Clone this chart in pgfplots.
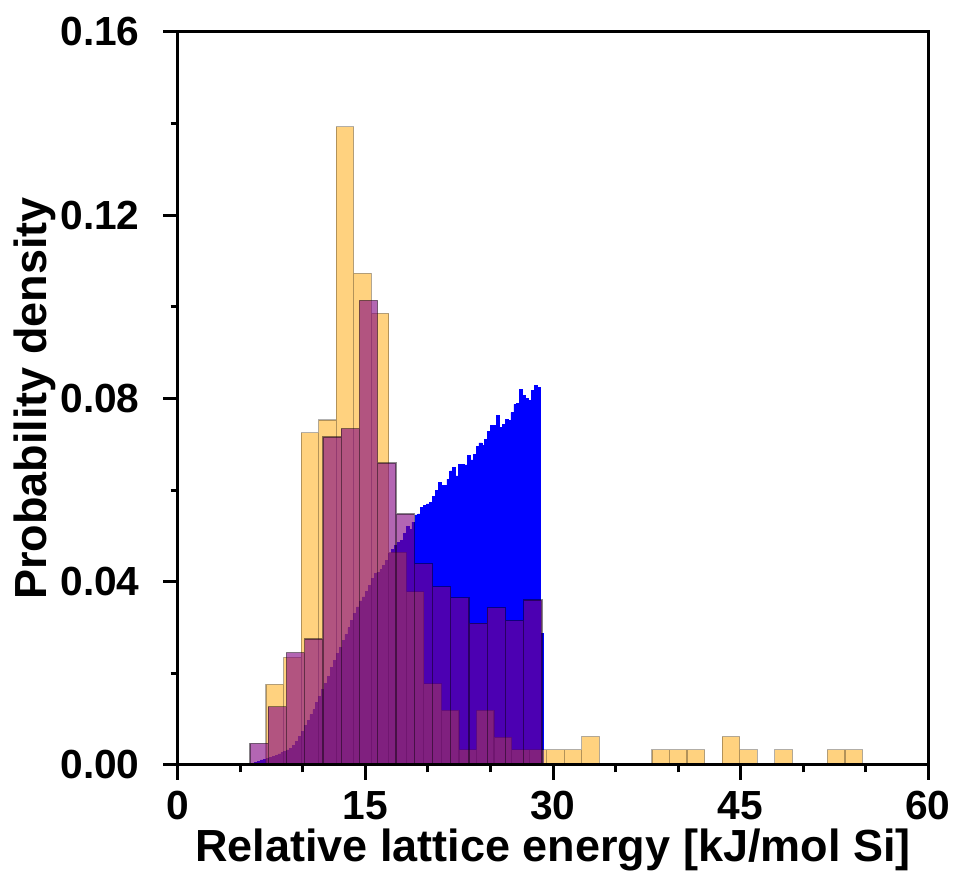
\documentclass[border=0pt]{standalone}
\usepackage{fontspec}
\setmainfont{Liberation Sans}
\usepackage{pgfplots}
\usepackage{pgfplotstable}
\pgfplotsset{compat=1.18}

\definecolor{histblue}{HTML}{0000FF}
\definecolor{historange}{HTML}{FFA500}
\definecolor{histpurple}{HTML}{800080}

% fine histogram (left bin edges, density)
\pgfplotstableread{
x y
5.900 0.0004
6.133 0.0006
6.366 0.0008
6.599 0.0011
6.832 0.0013
7.065 0.0015
7.298 0.0017
7.531 0.0018
7.764 0.0021
7.997 0.0024
8.230 0.0027
8.463 0.0030
8.696 0.0033
8.929 0.0037
9.162 0.0043
9.395 0.0052
9.628 0.0062
9.861 0.0074
10.094 0.0086
10.327 0.0098
10.560 0.0110
10.793 0.0121
11.026 0.0136
11.259 0.0150
11.492 0.0165
11.725 0.0178
11.958 0.0194
12.191 0.0213
12.424 0.0228
12.657 0.0243
12.890 0.0257
13.123 0.0272
13.356 0.0285
13.589 0.0300
13.822 0.0316
14.055 0.0331
14.288 0.0345
14.521 0.0358
14.754 0.0367
14.987 0.0378
15.220 0.0392
15.453 0.0408
15.686 0.0418
15.919 0.0421
16.152 0.0426
16.385 0.0436
16.618 0.0446
16.851 0.0463
17.084 0.0470
17.317 0.0480
17.550 0.0486
17.783 0.0491
18.016 0.0505
18.249 0.0520
18.482 0.0514
18.715 0.0530
18.948 0.0546
19.181 0.0548
19.414 0.0562
19.647 0.0567
19.880 0.0570
20.113 0.0574
20.346 0.0586
20.579 0.0600
20.812 0.0616
21.045 0.0611
21.278 0.0611
21.511 0.0624
21.744 0.0642
21.977 0.0650
22.210 0.0631
22.443 0.0656
22.676 0.0656
22.909 0.0655
23.142 0.0675
23.375 0.0666
23.608 0.0678
23.841 0.0696
24.074 0.0703
24.307 0.0698
24.540 0.0711
24.773 0.0729
25.006 0.0742
25.239 0.0742
25.472 0.0763
25.705 0.0737
25.938 0.0744
26.171 0.0755
26.404 0.0753
26.637 0.0769
26.870 0.0787
27.103 0.0790
27.336 0.0819
27.569 0.0806
27.802 0.0801
28.035 0.0795
28.268 0.0817
28.501 0.0828
28.734 0.0824
28.967 0.0288
29.200 0
}\bluehist

\pgfplotstableread{
x y
7.040 0.0176
8.444 0.0235
9.847 0.0725
11.251 0.0753
12.654 0.1393
14.058 0.1073
15.461 0.0986
16.865 0.0464
18.268 0.0378
19.672 0.0177
21.075 0.0119
22.479 0.0033
23.882 0.0119
25.286 0.0060
26.689 0.0033
28.093 0.0033
29.496 0.0033
30.900 0.0033
32.303 0.0062
33.707 0
35.110 0
36.514 0
37.917 0.0033
39.321 0.0033
40.724 0.0033
42.128 0
43.531 0.0062
44.935 0.0033
46.338 0
47.742 0.0033
49.145 0
50.549 0
51.952 0.0033
53.356 0.0033
54.759 0
}\orangehist

\pgfplotstableread{
x y
5.76 0.0047
7.22 0.0127
8.68 0.0245
10.14 0.0275
11.60 0.0716
13.06 0.0734
14.52 0.1014
15.98 0.0659
17.44 0.0548
18.90 0.0439
20.36 0.0389
21.82 0.0365
23.28 0.0309
24.74 0.0343
26.20 0.0315
27.66 0.0360
29.12 0
}\purplehist

\begin{document}
\begin{tikzpicture}
\begin{axis}[
    name=ax,
    scale only axis,
    width=225pt, height=219.9pt,
    xmin=0, xmax=60, ymin=0, ymax=0.16,
    xtick={0,15,30,45,60},
    minor xtick={5,10,20,25,35,40,50,55},
    ytick={0,0.04,0.08,0.12,0.16},
    minor ytick={0.02,0.06,0.10,0.14},
    scaled y ticks=false,
    tick pos=left,
    tick align=outside,
    major tick length=4.4pt,
    minor tick length=2.2pt,
    every tick/.style={black, line width=0.9pt},
    axis line style={line width=0.9pt},
    axis on top,
    /pgf/number format/assume math mode=true,
    tick label style={font=\bfseries\fontsize{12.2}{14}\selectfont},
    y tick label style={xshift=-3.6pt, /pgf/number format/.cd, fixed, fixed zerofill, precision=2, /tikz/.cd},
    label style={font=\bfseries\fontsize{13.5}{16}\selectfont},
    xlabel={Relative lattice energy [kJ/mol Si]},
    ylabel={Probability density},
    xlabel style={at={(axis description cs:0.5,0)}, anchor=north, yshift=-15.6pt},
    ylabel style={at={(axis description cs:0,0.5)}, anchor=south, yshift=33pt},
]
\addplot[ybar interval, fill=histblue, draw=histblue, line width=0.2pt] table[x=x, y=y] {\bluehist};
\addplot[ybar interval, fill=historange, fill opacity=0.5, draw=black, draw opacity=0.3, line width=0.35pt] table[x=x, y=y] {\orangehist};
\addplot[ybar interval, fill=histpurple, fill opacity=0.6, draw=black, draw opacity=0.45, line width=0.35pt] table[x=x, y=y] {\purplehist};
\end{axis}
\pgfresetboundingbox
\path ([xshift=-53.4pt, yshift=-31.8pt]ax.south west) rectangle ([xshift=8.4pt, yshift=9.6pt]ax.north east);
\end{tikzpicture}
\end{document}
